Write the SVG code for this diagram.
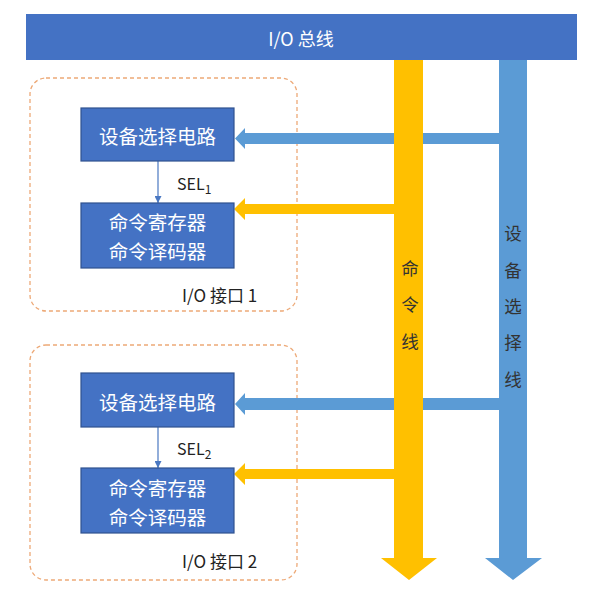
<svg xmlns="http://www.w3.org/2000/svg" width="601" height="609" viewBox="0 0 601 609">
<style>
.box{fill:#4472C4;stroke:#2F528F;stroke-width:1.2}
.bt{font-family:"Noto Sans CJK SC","Noto Sans",sans-serif;font-size:19.5px;fill:#ffffff;text-anchor:middle;dominant-baseline:central}
.lbl{font-family:"Noto Sans CJK SC","Noto Sans",sans-serif;font-size:16px;fill:#222222}
.vt{font-family:"Noto Sans CJK SC",sans-serif;font-size:17.5px;fill:#333333;text-anchor:middle;dominant-baseline:central}
.dash{fill:none;stroke:#EDA977;stroke-width:1.3;stroke-dasharray:4 3}
.blue{fill:#5B9BD5}
.yel{fill:#FFC000}
</style>
<defs>
<marker id="ah" viewBox="0 0 10 10" refX="10" refY="5" markerWidth="7" markerHeight="7" orient="auto" markerUnits="userSpaceOnUse">
<path d="M0,0 L10,5 L0,10 z" fill="#4A78C2"/>
</marker>
</defs>
<rect width="601" height="609" fill="#ffffff"/>
<g id="bus">
<rect x="26" y="14" width="551" height="46" fill="#4472C4"/>
<text x="301" y="38" class="bt" style="font-size:18px">I/O 总线</text>
</g>
<g id="iface1">
<rect x="30" y="78" width="267" height="233" rx="16" class="dash"/>
<text x="182" y="302" class="lbl" style="font-size:17px">I/O 接口 1</text>
</g>
<g id="iface2">
<rect x="30" y="345" width="267" height="235" rx="16" class="dash"/>
<text x="182" y="568" class="lbl" style="font-size:17px">I/O 接口 2</text>
</g>
<g id="connectors">
<polygon class="blue" points="499,133 245,133 245,128 235,138.5 245,149 245,144 499,144"/>
<polygon class="blue" points="499,398 245,398 245,393 235,404 245,415 245,410 499,410"/>
<polygon class="blue" points="499,60 527,60 527,558 542,558 513,580 485,558 499,558"/>
<polygon class="yel" points="394,204 245,204 245,198 234,209 245,220 245,214 394,214"/>
<polygon class="yel" points="394,469 245,469 245,463 234,474 245,485 245,479 394,479"/>
<polygon class="yel" points="394,60 423,60 423,558 437,558 409,580 381,558 394,558"/>
<line x1="158" y1="161" x2="158" y2="203" stroke="#4A78C2" stroke-width="1.2" marker-end="url(#ah)"/>
<line x1="158" y1="427" x2="158" y2="468" stroke="#4A78C2" stroke-width="1.2" marker-end="url(#ah)"/>
<text x="177" y="190" class="lbl">SEL<tspan dy="4" font-size="12">1</tspan></text>
<text x="177" y="455" class="lbl">SEL<tspan dy="4" font-size="12">2</tspan></text>
</g>
<g id="cmdline-label">
<text x="410" y="267" class="vt">命</text>
<text x="410" y="303" class="vt">令</text>
<text x="410" y="340" class="vt">线</text>
</g>
<g id="selline-label">
<text x="513" y="232" class="vt">设</text>
<text x="513" y="269" class="vt">备</text>
<text x="513" y="305" class="vt">选</text>
<text x="513" y="341" class="vt">择</text>
<text x="513" y="378" class="vt">线</text>
</g>
<g id="sel1">
<rect x="81" y="108" width="153" height="53" class="box"/>
<text x="157.5" y="135" class="bt">设备选择电路</text>
</g>
<g id="cmd1">
<rect x="81" y="203" width="153" height="65" class="box"/>
<text x="157.5" y="221" class="bt">命令寄存器</text>
<text x="157.5" y="250" class="bt">命令译码器</text>
</g>
<g id="sel2">
<rect x="81" y="373" width="153" height="54" class="box"/>
<text x="157.5" y="401" class="bt">设备选择电路</text>
</g>
<g id="cmd2">
<rect x="81" y="468" width="153" height="65" class="box"/>
<text x="157.5" y="487" class="bt">命令寄存器</text>
<text x="157.5" y="516" class="bt">命令译码器</text>
</g>
</svg>
